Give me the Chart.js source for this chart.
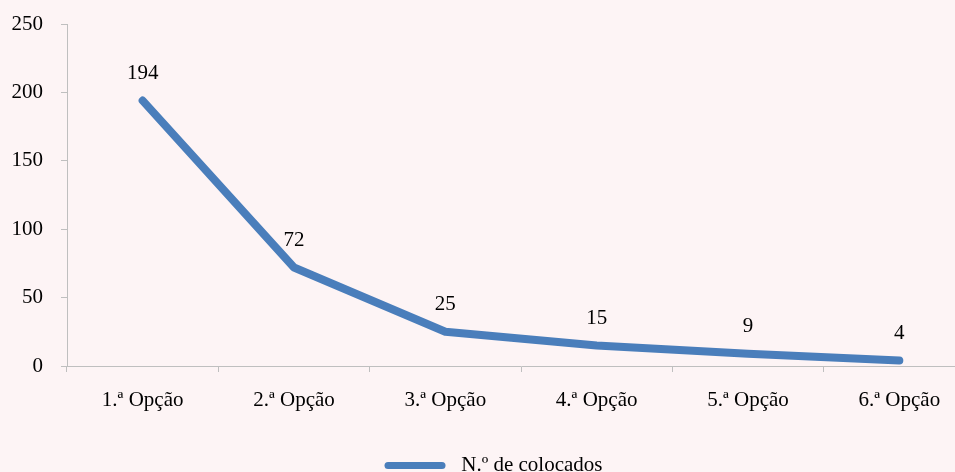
<!DOCTYPE html>
<html>
<head>
<meta charset="utf-8">
<script src="https://cdn.jsdelivr.net/npm/chart.js@4"></script>
<style>
  html, body { margin: 0; padding: 0; overflow: hidden; background: #FDF4F5; }
</style>
</head>
<body>
<canvas id="myChart" width="975" height="486"></canvas>
<script>
// categories and values
var categories = ['1.ª Opção', '2.ª Opção', '3.ª Opção', '4.ª Opção', '5.ª Opção', '6.ª Opção'];
var colocados = [194, 72, 25, 15, 9, 4];
var seriesName = 'N.º de colocados';
var yTicks = [0, 50, 100, 150, 200, 250];

var lineColor = '#4A7EBB';
var axisColor = '#BFBFBF';
var fontFamily = '"Liberation Serif", "Times New Roman", serif';

// numbers above each point
var valueLabels = {
    id: 'valueLabels',
    afterDatasetsDraw: function (chart) {
        var ctx = chart.ctx;
        var meta = chart.getDatasetMeta(0);
        ctx.save();
        ctx.font = '21px ' + fontFamily;
        ctx.fillStyle = '#000';
        ctx.textAlign = 'center';
        ctx.textBaseline = 'middle';
        meta.data.forEach(function (pt, i) {
            ctx.fillText(String(colocados[i]), pt.x, pt.y - 27);
        });
        ctx.restore();
    }
};

// the legend sits a little right of centre in the original
var legendShift = {
    id: 'legendShift',
    afterLayout: function (chart) {
        if (chart.legend) {
            chart.legend.left += 6;
            chart.legend.right += 6;
        }
    }
};

var ctx = document.getElementById('myChart');
new Chart(ctx, {
    type: 'line',
    data: {
        labels: categories,
        datasets: [{
            label: seriesName,
            data: colocados,
            borderColor: lineColor,
            backgroundColor: lineColor,
            borderWidth: 8,
            borderCapStyle: 'round',
            borderJoinStyle: 'round',
            pointRadius: 0,
            pointHoverRadius: 0,
            tension: 0,
            fill: false
        }]
    },
    options: {
        responsive: false,
        animation: false,
        layout: { padding: { top: 24, left: 0, right: 0, bottom: 0 } },
        scales: {
            x: {
                offset: true,
                grid: {
                    offset: true,
                    drawOnChartArea: false,
                    drawTicks: true,
                    tickLength: 6,
                    color: axisColor
                },
                border: { color: axisColor, width: 1 },
                ticks: {
                    color: '#000',
                    font: { family: fontFamily, size: 21 },
                    padding: 16,
                    maxRotation: 0
                },
                afterFit: function (scale) { scale.height = 79; }
            },
            y: {
                min: 0,
                max: 250,
                afterBuildTicks: function (scale) {
                    scale.ticks = yTicks.map(function (v) { return { value: v }; });
                },
                grid: {
                    drawOnChartArea: false,
                    drawTicks: true,
                    tickLength: 6,
                    color: axisColor
                },
                border: { color: axisColor, width: 1 },
                ticks: {
                    color: '#000',
                    font: { family: fontFamily, size: 21 },
                    padding: 18
                },
                afterFit: function (scale) {
                    scale.width = 67;
                    scale.paddingTop = 0;
                }
            }
        },
        plugins: {
            tooltip: { enabled: false },
            legend: {
                position: 'bottom',
                labels: {
                    color: '#000',
                    font: { family: fontFamily, size: 21 },
                    boxWidth: 61,
                    boxHeight: 7,
                    padding: 10,
                    generateLabels: function (chart) {
                        return [{
                            text: ' ' + seriesName,
                            fillStyle: lineColor,
                            strokeStyle: lineColor,
                            lineWidth: 0,
                            borderRadius: 3.5,
                            datasetIndex: 0
                        }];
                    }
                }
            }
        }
    },
    plugins: [valueLabels, legendShift]
});
</script>
</body>
</html>
